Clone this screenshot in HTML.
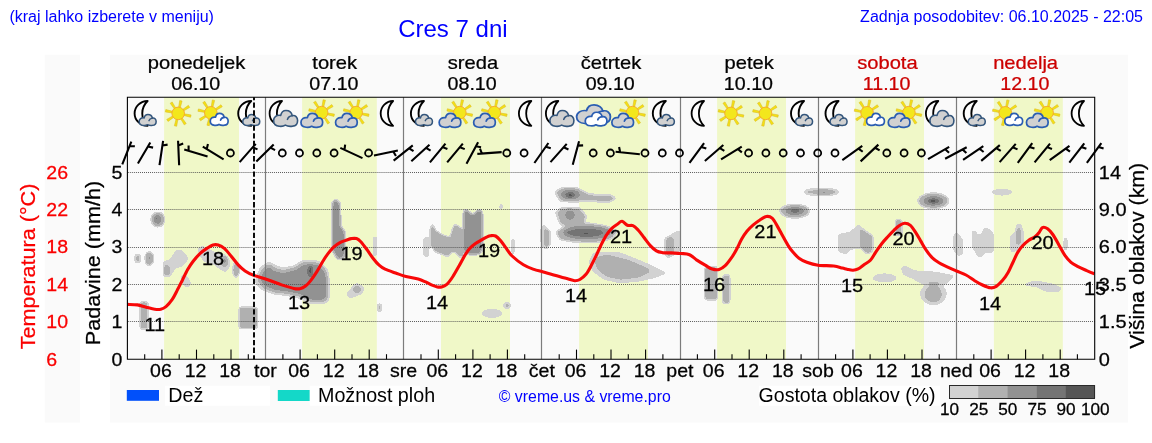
<!DOCTYPE html>
<html><head><meta charset="utf-8"><title>Cres 7 dni</title>
<style>html,body{margin:0;padding:0;background:#fff;}body{width:1152px;height:443px;overflow:hidden;font-family:"Liberation Sans", sans-serif;}svg{display:block;will-change:transform;opacity:0.9999;}text{font-family:"Liberation Sans", sans-serif;}</style>
</head><body>
<svg width="1152" height="443" viewBox="0 0 1152 443">
<defs>
<filter id="q" filterUnits="userSpaceOnUse" x="127" y="172" width="968" height="187" color-interpolation-filters="sRGB"><feGaussianBlur stdDeviation="1.7"/><feColorMatrix type="matrix" values="0 0 0 1 0  0 0 0 1 0  0 0 0 1 0  0 0 0 1 0"/><feComponentTransfer><feFuncR type="discrete" tableValues="1.000 1.000 0.824 0.824 0.824 0.694 0.694 0.694 0.694 0.694 0.573 0.573 0.573 0.573 0.573 0.455 0.455 0.455 0.337 0.337"/><feFuncG type="discrete" tableValues="1.000 1.000 0.824 0.824 0.824 0.694 0.694 0.694 0.694 0.694 0.573 0.573 0.573 0.573 0.573 0.455 0.455 0.455 0.337 0.337"/><feFuncB type="discrete" tableValues="1.000 1.000 0.824 0.824 0.824 0.694 0.694 0.694 0.694 0.694 0.573 0.573 0.573 0.573 0.573 0.455 0.455 0.455 0.337 0.337"/><feFuncA type="discrete" tableValues="0 0 1 1 1 1 1 1 1 1 1 1 1 1 1 1 1 1 1 1"/></feComponentTransfer><feGaussianBlur stdDeviation="0.35"/></filter><g id="barb"><path d="M0,12.2 L0,-12.2 M0,-7.6 L5.0,-9.2" fill="none" stroke="#000" stroke-width="2.1" stroke-linecap="butt" stroke-linejoin="miter"/></g><g id="ic-moon"><path transform="translate(0.1,0.0) scale(1.000,1)" d="M6.5,-12.4 A12.4,12.4 0 0 0 6.5,12.4 A17.6,17.6 0 0 1 6.5,-12.4 Z" fill="#fdfdfd" stroke="#000" stroke-width="1.8" stroke-linejoin="round"/></g><g id="ic-moon1"><path transform="translate(-3.9,0.0) scale(1.050,1)" d="M6.5,-12.4 A12.4,12.4 0 0 0 6.5,12.4 A17.6,17.6 0 0 1 6.5,-12.4 Z" fill="#fdfdfd" stroke="#000" stroke-width="1.8" stroke-linejoin="round"/><g transform="translate(-5.90,0.80) scale(0.885,0.872)"><path d="M6.1,4.3 C6.6,1.6 8.4,0.4 10.3,0.4 C12.9,0.4 14.9,2.2 15.3,4.5 C17.8,3.9 19.6,5.8 19.6,8.3 C19.6,10.8 18.2,12.6 15.6,12.8 C13.4,13.2 11.4,12.9 9.8,12.0 C8.6,12.8 6.6,13.1 5.0,12.9 C2.2,12.7 0.4,10.9 0.4,8.4 C0.4,5.8 2.8,3.6 6.1,4.3 Z" fill="#d1d1d1" stroke="#34567c" stroke-width="1.71" stroke-linejoin="round"/><path d="M11.5,7.4 C12,5.6 13.6,4.7 15.3,4.5" fill="none" stroke="#34567c" stroke-width="1.71" stroke-linecap="round"/></g></g><g id="ic-moon2"><path transform="translate(-7.4,0.0) scale(1.000,1)" d="M6.5,-12.4 A12.4,12.4 0 0 0 6.5,12.4 A17.6,17.6 0 0 1 6.5,-12.4 Z" fill="#fdfdfd" stroke="#000" stroke-width="1.8" stroke-linejoin="round"/><g transform="translate(-9.80,-3.40) scale(1.250,1.263)"><path d="M6.1,4.3 C6.6,1.6 8.4,0.4 10.3,0.4 C12.9,0.4 14.9,2.2 15.3,4.5 C17.8,3.9 19.6,5.8 19.6,8.3 C19.6,10.8 18.2,12.6 15.6,12.8 C13.4,13.2 11.4,12.9 9.8,12.0 C8.6,12.8 6.6,13.1 5.0,12.9 C2.2,12.7 0.4,10.9 0.4,8.4 C0.4,5.8 2.8,3.6 6.1,4.3 Z" fill="#d1d1d1" stroke="#34567c" stroke-width="1.27" stroke-linejoin="round"/><path d="M11.5,7.4 C12,5.6 13.6,4.7 15.3,4.5" fill="none" stroke="#34567c" stroke-width="1.27" stroke-linecap="round"/></g></g><g id="ic-sun"><g transform="translate(-1.0,0.0)"><path transform="rotate(12)" d="M-0.85,-6.0 L-1.2,-12.9 L1.2,-12.9 L0.85,-6.0 Z" fill="#f3e214" stroke="#dcb722" stroke-width="0.5" stroke-linejoin="round"/><path transform="rotate(57)" d="M-0.85,-6.0 L-1.2,-12.9 L1.2,-12.9 L0.85,-6.0 Z" fill="#f3e214" stroke="#dcb722" stroke-width="0.5" stroke-linejoin="round"/><path transform="rotate(102)" d="M-0.85,-6.0 L-1.2,-12.9 L1.2,-12.9 L0.85,-6.0 Z" fill="#f3e214" stroke="#dcb722" stroke-width="0.5" stroke-linejoin="round"/><path transform="rotate(147)" d="M-0.85,-6.0 L-1.2,-12.9 L1.2,-12.9 L0.85,-6.0 Z" fill="#f3e214" stroke="#dcb722" stroke-width="0.5" stroke-linejoin="round"/><path transform="rotate(192)" d="M-0.85,-6.0 L-1.2,-12.9 L1.2,-12.9 L0.85,-6.0 Z" fill="#f3e214" stroke="#dcb722" stroke-width="0.5" stroke-linejoin="round"/><path transform="rotate(237)" d="M-0.85,-6.0 L-1.2,-12.9 L1.2,-12.9 L0.85,-6.0 Z" fill="#f3e214" stroke="#dcb722" stroke-width="0.5" stroke-linejoin="round"/><path transform="rotate(282)" d="M-0.85,-6.0 L-1.2,-12.9 L1.2,-12.9 L0.85,-6.0 Z" fill="#f3e214" stroke="#dcb722" stroke-width="0.5" stroke-linejoin="round"/><path transform="rotate(327)" d="M-0.85,-6.0 L-1.2,-12.9 L1.2,-12.9 L0.85,-6.0 Z" fill="#f3e214" stroke="#dcb722" stroke-width="0.5" stroke-linejoin="round"/><circle r="6.3" fill="#f3e71c" stroke="#f6a52c" stroke-width="0.9"/></g></g><g id="ic-sun1"><g transform="translate(-3.0,-0.6)"><path transform="rotate(12)" d="M-0.85,-6.0 L-1.2,-12.9 L1.2,-12.9 L0.85,-6.0 Z" fill="#f3e214" stroke="#dcb722" stroke-width="0.5" stroke-linejoin="round"/><path transform="rotate(57)" d="M-0.85,-6.0 L-1.2,-12.9 L1.2,-12.9 L0.85,-6.0 Z" fill="#f3e214" stroke="#dcb722" stroke-width="0.5" stroke-linejoin="round"/><path transform="rotate(102)" d="M-0.85,-6.0 L-1.2,-12.9 L1.2,-12.9 L0.85,-6.0 Z" fill="#f3e214" stroke="#dcb722" stroke-width="0.5" stroke-linejoin="round"/><path transform="rotate(147)" d="M-0.85,-6.0 L-1.2,-12.9 L1.2,-12.9 L0.85,-6.0 Z" fill="#f3e214" stroke="#dcb722" stroke-width="0.5" stroke-linejoin="round"/><path transform="rotate(192)" d="M-0.85,-6.0 L-1.2,-12.9 L1.2,-12.9 L0.85,-6.0 Z" fill="#f3e214" stroke="#dcb722" stroke-width="0.5" stroke-linejoin="round"/><path transform="rotate(237)" d="M-0.85,-6.0 L-1.2,-12.9 L1.2,-12.9 L0.85,-6.0 Z" fill="#f3e214" stroke="#dcb722" stroke-width="0.5" stroke-linejoin="round"/><path transform="rotate(282)" d="M-0.85,-6.0 L-1.2,-12.9 L1.2,-12.9 L0.85,-6.0 Z" fill="#f3e214" stroke="#dcb722" stroke-width="0.5" stroke-linejoin="round"/><path transform="rotate(327)" d="M-0.85,-6.0 L-1.2,-12.9 L1.2,-12.9 L0.85,-6.0 Z" fill="#f3e214" stroke="#dcb722" stroke-width="0.5" stroke-linejoin="round"/><circle r="6.3" fill="#f3e71c" stroke="#f6a52c" stroke-width="0.9"/></g><g transform="translate(-3.90,-0.30) scale(0.930,0.947)"><path d="M6.1,4.3 C6.6,1.6 8.4,0.4 10.3,0.4 C12.9,0.4 14.9,2.2 15.3,4.5 C17.8,3.9 19.6,5.8 19.6,8.3 C19.6,10.8 18.2,12.6 15.6,12.8 C13.4,13.2 11.4,12.9 9.8,12.0 C8.6,12.8 6.6,13.1 5.0,12.9 C2.2,12.7 0.4,10.9 0.4,8.4 C0.4,5.8 2.8,3.6 6.1,4.3 Z" fill="#ffffff" stroke="#2a5db2" stroke-width="1.81" stroke-linejoin="round"/><path d="M11.5,7.4 C12,5.6 13.6,4.7 15.3,4.5" fill="none" stroke="#2a5db2" stroke-width="1.81" stroke-linecap="round"/></g></g><g id="ic-sun2"><g transform="translate(4.2,-0.8)"><path transform="rotate(12)" d="M-0.85,-6.0 L-1.2,-12.9 L1.2,-12.9 L0.85,-6.0 Z" fill="#f3e214" stroke="#dcb722" stroke-width="0.5" stroke-linejoin="round"/><path transform="rotate(57)" d="M-0.85,-6.0 L-1.2,-12.9 L1.2,-12.9 L0.85,-6.0 Z" fill="#f3e214" stroke="#dcb722" stroke-width="0.5" stroke-linejoin="round"/><path transform="rotate(102)" d="M-0.85,-6.0 L-1.2,-12.9 L1.2,-12.9 L0.85,-6.0 Z" fill="#f3e214" stroke="#dcb722" stroke-width="0.5" stroke-linejoin="round"/><path transform="rotate(147)" d="M-0.85,-6.0 L-1.2,-12.9 L1.2,-12.9 L0.85,-6.0 Z" fill="#f3e214" stroke="#dcb722" stroke-width="0.5" stroke-linejoin="round"/><path transform="rotate(192)" d="M-0.85,-6.0 L-1.2,-12.9 L1.2,-12.9 L0.85,-6.0 Z" fill="#f3e214" stroke="#dcb722" stroke-width="0.5" stroke-linejoin="round"/><path transform="rotate(237)" d="M-0.85,-6.0 L-1.2,-12.9 L1.2,-12.9 L0.85,-6.0 Z" fill="#f3e214" stroke="#dcb722" stroke-width="0.5" stroke-linejoin="round"/><path transform="rotate(282)" d="M-0.85,-6.0 L-1.2,-12.9 L1.2,-12.9 L0.85,-6.0 Z" fill="#f3e214" stroke="#dcb722" stroke-width="0.5" stroke-linejoin="round"/><path transform="rotate(327)" d="M-0.85,-6.0 L-1.2,-12.9 L1.2,-12.9 L0.85,-6.0 Z" fill="#f3e214" stroke="#dcb722" stroke-width="0.5" stroke-linejoin="round"/><circle r="6.3" fill="#f3e71c" stroke="#f6a52c" stroke-width="0.9"/></g><g transform="translate(-16.90,-0.50) scale(1.130,1.113)"><path d="M6.1,4.3 C6.6,1.6 8.4,0.4 10.3,0.4 C12.9,0.4 14.9,2.2 15.3,4.5 C17.8,3.9 19.6,5.8 19.6,8.3 C19.6,10.8 18.2,12.6 15.6,12.8 C13.4,13.2 11.4,12.9 9.8,12.0 C8.6,12.8 6.6,13.1 5.0,12.9 C2.2,12.7 0.4,10.9 0.4,8.4 C0.4,5.8 2.8,3.6 6.1,4.3 Z" fill="#d1d1d1" stroke="#2a5db2" stroke-width="1.52" stroke-linejoin="round"/><path d="M11.5,7.4 C12,5.6 13.6,4.7 15.3,4.5" fill="none" stroke="#2a5db2" stroke-width="1.52" stroke-linecap="round"/></g></g><g id="ic-cloudy"><g transform="translate(-17.90,-9.10) scale(1.760,1.489)"><path d="M6.1,4.3 C6.6,1.6 8.4,0.4 10.3,0.4 C12.9,0.4 14.9,2.2 15.3,4.5 C17.8,3.9 19.6,5.8 19.6,8.3 C19.6,10.8 18.2,12.6 15.6,12.8 C13.4,13.2 11.4,12.9 9.8,12.0 C8.6,12.8 6.6,13.1 5.0,12.9 C2.2,12.7 0.4,10.9 0.4,8.4 C0.4,5.8 2.8,3.6 6.1,4.3 Z" fill="#d1d1d1" stroke="#2a5db2" stroke-width="1.05" stroke-linejoin="round"/><path d="M11.5,7.4 C12,5.6 13.6,4.7 15.3,4.5" fill="none" stroke="#2a5db2" stroke-width="1.05" stroke-linecap="round"/></g><g transform="translate(-9.00,-1.60) scale(1.130,1.083)"><path d="M6.1,4.3 C6.6,1.6 8.4,0.4 10.3,0.4 C12.9,0.4 14.9,2.2 15.3,4.5 C17.8,3.9 19.6,5.8 19.6,8.3 C19.6,10.8 18.2,12.6 15.6,12.8 C13.4,13.2 11.4,12.9 9.8,12.0 C8.6,12.8 6.6,13.1 5.0,12.9 C2.2,12.7 0.4,10.9 0.4,8.4 C0.4,5.8 2.8,3.6 6.1,4.3 Z" fill="#ffffff" stroke="#2a5db2" stroke-width="1.54" stroke-linejoin="round"/><path d="M11.5,7.4 C12,5.6 13.6,4.7 15.3,4.5" fill="none" stroke="#2a5db2" stroke-width="1.54" stroke-linecap="round"/></g></g>
</defs>
<rect x="0" y="0" width="1152" height="443" fill="#ffffff"/>
<rect x="44.8" y="54.8" width="35.1" height="367.8" fill="#fafafa"/>
<rect x="110" y="54.8" width="1018" height="367.8" fill="#fafafa"/>
<text x="9.4" y="21.6" font-size="16" fill="#0000ff">(kraj lahko izberete v meniju)</text>
<text x="398.2" y="36.6" font-size="24" fill="#0000ff">Cres 7 dni</text>
<text x="1143" y="21.8" font-size="16" fill="#0000ff" text-anchor="end">Zadnja posodobitev: 06.10.2025 - 22:05</text>
<rect x="164.1" y="97.3" width="74.9" height="261.9" fill="#f0f8c8"/>
<rect x="302.1" y="97.3" width="74.7" height="261.9" fill="#f0f8c8"/>
<rect x="441.0" y="97.3" width="69.0" height="261.9" fill="#f0f8c8"/>
<rect x="579.1" y="97.3" width="68.9" height="261.9" fill="#f0f8c8"/>
<rect x="717.1" y="97.3" width="68.9" height="261.9" fill="#f0f8c8"/>
<rect x="855.1" y="97.3" width="68.9" height="261.9" fill="#f0f8c8"/>
<rect x="993.9" y="97.3" width="68.9" height="261.9" fill="#f0f8c8"/>
<g filter="url(#q)" fill="#000"><ellipse cx="157.9" cy="219.5" rx="7.0" ry="7.6" fill-opacity="0.30"/><ellipse cx="157.8" cy="219.5" rx="4.6" ry="5.2" fill-opacity="0.42"/><ellipse cx="156.6" cy="218.4" rx="1.5" ry="1.7" fill-opacity="1.00"/><ellipse cx="137.6" cy="258.5" rx="3.2" ry="4.5" fill-opacity="0.30"/><ellipse cx="149.3" cy="258.5" rx="3.8" ry="6.6" fill-opacity="0.50"/><polygon points="163.0,261.5 170.0,259.5 175.5,250.5 181.5,249.5 188.0,257.0 187.6,261.0 182.0,266.5 175.0,268.5 170.5,277.0 163.0,277.0" fill-opacity="0.21"/><ellipse cx="166.6" cy="270.5" rx="1.8" ry="4.2" fill-opacity="0.45"/><polygon points="180.8,276.5 184.0,273.5 188.0,277.0 191.2,283.0 188.5,287.6 184.5,286.4 182.0,281.5" fill-opacity="0.21"/><polygon points="197.5,248.5 202.5,245.5 208.0,249.0 215.0,252.0 224.0,254.0 230.2,261.0 229.4,268.0 225.0,272.4 219.0,268.4 212.0,263.4 205.0,262.4 200.0,256.4" fill-opacity="0.21"/><ellipse cx="224.6" cy="260.8" rx="2.8" ry="4.4" fill-opacity="0.45"/><ellipse cx="236.0" cy="269.7" rx="3.2" ry="8.2" fill-opacity="0.30"/><ellipse cx="236.2" cy="270.2" rx="1.5" ry="4.8" fill-opacity="0.40"/><rect x="140.3" y="302.0" width="7.5" height="26.8" fill-opacity="0.40"/><rect x="239.5" y="307.6" width="17.3" height="20.6" fill-opacity="0.49"/><polygon points="254.5,281.0 260.0,266.5 268.8,261.0 277.0,265.5 283.0,267.3 294.5,265.0 301.0,260.2 310.0,259.4 319.5,260.8 327.6,268.5 329.6,276.0 329.6,300.5 324.0,304.4 311.0,304.4 298.0,298.4 286.0,296.0 274.0,294.8 263.0,291.0 255.5,285.0" fill-opacity="0.17"/><polygon points="257.0,280.0 262.0,268.5 268.8,263.8 275.5,268.0 283.0,270.0 295.0,267.5 302.0,262.5 310.0,261.8 318.5,263.0 326.0,270.0 327.6,277.0 327.6,299.5 323.0,302.2 311.5,302.2 299.0,296.2 286.5,293.8 274.5,292.4 264.0,288.6" fill-opacity="0.19"/><polygon points="259.5,279.0 264.0,271.0 268.8,266.7 274.0,271.0 283.0,273.0 296.0,270.0 303.0,265.0 310.0,264.0 318.0,265.0 324.0,271.0 326.0,278.0 326.0,298.0 322.0,300.0 312.0,300.0 300.0,294.0 287.0,291.5 275.0,290.0 265.0,286.0" fill-opacity="0.51"/><ellipse cx="310.3" cy="271.0" rx="2.2" ry="6.0" fill-opacity="0.90"/><polygon points="332.4,203.0 335.5,199.5 339.6,203.0 340.4,226.0 344.6,232.0 344.6,257.0 338.0,259.5 332.4,250.0" fill-opacity="0.66"/><rect x="373.2" y="236.6" width="3.2" height="19.4" fill-opacity="0.30"/><polygon points="345.5,294.0 356.5,282.2 365.2,288.0 362.0,294.0 350.0,298.5" fill-opacity="0.21"/><ellipse cx="357.0" cy="289.3" rx="2.8" ry="2.4" fill-opacity="0.35"/><ellipse cx="379.5" cy="307.7" rx="2.4" ry="4.2" fill-opacity="0.30"/><rect x="423.4" y="237.5" width="5.8" height="19.3" fill-opacity="0.22"/><polygon points="430.0,232.0 432.0,223.0 435.0,230.0 439.4,233.5 450.0,238.0 453.0,228.0 455.0,224.0 460.5,228.0 463.5,230.0 463.5,257.0 460.5,257.5 456.0,253.0 453.0,251.0 447.5,256.5 442.0,254.0 436.0,252.0 431.0,246.0" fill-opacity="0.42"/><polygon points="463.9,212.0 466.0,209.6 472.7,215.6 479.0,209.6 482.0,212.0 482.0,250.0 479.0,254.0 467.0,254.0 463.9,250.0" fill-opacity="0.70"/><rect x="500.4" y="204.0" width="1.4" height="5.5" fill-opacity="0.50"/><rect x="512.2" y="238.0" width="1.6" height="16.6" fill-opacity="0.40"/><ellipse cx="491.9" cy="313.4" rx="10.4" ry="4.3" fill-opacity="0.22"/><ellipse cx="507.2" cy="305.5" rx="3.6" ry="3.1" fill-opacity="0.30"/><polygon points="540.6,226.0 545.0,225.0 550.8,232.0 550.8,244.0 546.0,250.5 540.6,244.0" fill-opacity="0.22"/><rect x="545.4" y="230.0" width="2.8" height="16.0" fill-opacity="0.30"/><polygon points="554.6,192.0 562.0,187.2 578.0,188.0 590.0,194.0 612.0,195.0 616.4,199.0 608.0,202.8 590.0,201.2 575.0,202.0 560.0,201.5" fill-opacity="0.30"/><ellipse cx="570.4" cy="194.6" rx="9.8" ry="4.8" fill-opacity="0.60"/><ellipse cx="570.2" cy="195.2" rx="3.6" ry="2.2" fill-opacity="0.90"/><polygon points="555.4,212.0 562.0,207.2 580.0,207.8 586.6,216.0 584.0,224.4 570.0,226.4 560.0,224.4" fill-opacity="0.30"/><ellipse cx="570.0" cy="215.0" rx="5.4" ry="5.2" fill-opacity="0.45"/><polygon points="556.0,232.0 566.0,225.6 590.0,223.2 606.0,226.0 618.0,231.0 612.0,238.4 596.0,242.4 574.0,242.0 560.0,239.4" fill-opacity="0.36"/><ellipse cx="587.0" cy="232.6" rx="24.0" ry="6.4" fill-opacity="0.50"/><ellipse cx="585.0" cy="232.6" rx="19.0" ry="4.4" fill-opacity="0.40"/><ellipse cx="586.5" cy="233.4" rx="13.0" ry="2.4" fill-opacity="0.55"/><polygon points="589.0,262.0 593.0,252.8 606.0,251.8 620.0,252.6 646.0,263.0 667.0,273.0 654.0,278.0 638.0,281.6 620.0,283.0 604.0,279.4 593.0,271.5" fill-opacity="0.23"/><polygon points="596.5,262.0 599.5,257.5 610.0,257.0 628.0,261.6 649.0,270.8 638.0,275.8 620.0,278.0 607.0,275.0 599.5,269.0" fill-opacity="0.21"/><polygon points="664.3,238.0 680.3,229.2 680.8,250.0 672.5,256.0 667.0,258.6 664.3,254.0" fill-opacity="0.21"/><rect x="667.2" y="238.5" width="5.2" height="16.5" fill-opacity="0.30"/><rect x="705.3" y="267.0" width="11.5" height="32.5" fill-opacity="0.48"/><rect x="722.9" y="275.0" width="6.6" height="28.3" fill-opacity="0.40"/><ellipse cx="794.8" cy="211.1" rx="15.4" ry="7.2" fill-opacity="0.25"/><ellipse cx="794.8" cy="211.1" rx="12.4" ry="5.4" fill-opacity="0.25"/><ellipse cx="794.8" cy="211.0" rx="9.4" ry="3.8" fill-opacity="0.30"/><ellipse cx="794.8" cy="210.8" rx="6.4" ry="2.4" fill-opacity="0.50"/><ellipse cx="794.6" cy="210.4" rx="3.0" ry="1.3" fill-opacity="0.90"/><ellipse cx="821.5" cy="192.0" rx="18.0" ry="3.8" fill-opacity="0.28"/><ellipse cx="824.0" cy="192.3" rx="8.0" ry="1.6" fill-opacity="0.45"/><polygon points="838.2,234.0 850.0,232.0 858.0,224.2 872.8,236.0 872.8,250.0 868.0,254.8 860.0,248.0 850.0,250.0 846.0,254.6 838.2,252.0" fill-opacity="0.21"/><polygon points="860.8,229.6 872.6,236.6 872.6,250.4 868.0,254.0 860.8,247.2" fill-opacity="0.24"/><rect x="896.0" y="220.0" width="5.4" height="15.0" fill-opacity="0.50"/><ellipse cx="933.4" cy="200.8" rx="16.0" ry="8.0" fill-opacity="0.25"/><ellipse cx="933.4" cy="200.8" rx="13.0" ry="6.2" fill-opacity="0.25"/><ellipse cx="933.4" cy="200.9" rx="10.0" ry="4.6" fill-opacity="0.30"/><ellipse cx="933.4" cy="201.0" rx="7.2" ry="3.0" fill-opacity="0.45"/><ellipse cx="933.2" cy="201.0" rx="4.4" ry="1.8" fill-opacity="1.00"/><ellipse cx="884.6" cy="278.0" rx="12.2" ry="4.4" fill-opacity="0.21"/><polygon points="900.8,267.6 905.0,265.8 915.0,270.6 935.0,271.8 955.0,275.6 946.0,284.4 922.0,284.0 912.0,278.5 903.0,274.8" fill-opacity="0.21"/><ellipse cx="933.4" cy="293.8" rx="13.2" ry="11.2" fill-opacity="0.22"/><ellipse cx="933.2" cy="294.0" rx="7.0" ry="7.0" fill-opacity="0.30"/><polygon points="953.3,236.0 957.0,231.6 963.2,240.0 963.2,254.0 958.0,256.2 953.3,250.0" fill-opacity="0.21"/><polygon points="971.8,232.0 973.8,229.4 976.0,231.0 978.1,235.4 981.0,234.0 984.2,227.8 987.7,227.8 994.0,234.1 994.0,250.0 991.2,253.8 985.1,252.6 981.6,257.8 977.3,257.0 974.5,251.0 971.8,247.1" fill-opacity="0.21"/><ellipse cx="1002.0" cy="192.2" rx="10.8" ry="3.2" fill-opacity="0.21"/><polygon points="1010.2,236.0 1015.0,232.0 1017.0,223.2 1021.0,223.8 1023.7,232.0 1023.7,248.0 1018.0,250.0 1012.0,253.2 1010.2,250.0" fill-opacity="0.21"/><rect x="1017.3" y="229.0" width="2.2" height="14.5" fill-opacity="0.36"/><rect x="1064.3" y="237.8" width="2.5" height="12.6" fill-opacity="0.35"/><polygon points="1023.3,284.2 1032.0,281.3 1042.0,281.6 1054.0,284.0 1063.2,288.5 1058.0,292.2 1046.0,291.7 1036.0,287.0 1026.0,285.8" fill-opacity="0.21"/></g>
<line x1="127.8" x2="1094.7" y1="321.5" y2="321.5" stroke="#4c4c4c" stroke-width="1" stroke-dasharray="0.9 1.13"/>
<line x1="127.8" x2="1094.7" y1="284.5" y2="284.5" stroke="#4c4c4c" stroke-width="1" stroke-dasharray="0.9 1.13"/>
<line x1="127.8" x2="1094.7" y1="247.5" y2="247.5" stroke="#4c4c4c" stroke-width="1" stroke-dasharray="0.9 1.13"/>
<line x1="127.8" x2="1094.7" y1="209.5" y2="209.5" stroke="#4c4c4c" stroke-width="1" stroke-dasharray="0.9 1.13"/>
<line x1="127.8" x2="1094.7" y1="172.5" y2="172.5" stroke="#4c4c4c" stroke-width="1" stroke-dasharray="0.9 1.13"/>
<line x1="265.5" x2="265.5" y1="97.3" y2="359.2" stroke="#7c7c7c" stroke-width="1.2"/>
<line x1="403.5" x2="403.5" y1="97.3" y2="359.2" stroke="#7c7c7c" stroke-width="1.2"/>
<line x1="541.5" x2="541.5" y1="97.3" y2="359.2" stroke="#7c7c7c" stroke-width="1.2"/>
<line x1="680.5" x2="680.5" y1="97.3" y2="359.2" stroke="#7c7c7c" stroke-width="1.2"/>
<line x1="818.5" x2="818.5" y1="97.3" y2="359.2" stroke="#7c7c7c" stroke-width="1.2"/>
<line x1="956.5" x2="956.5" y1="97.3" y2="359.2" stroke="#7c7c7c" stroke-width="1.2"/>
<line x1="144.7" x2="144.7" y1="359.2" y2="354.2" stroke="#000" stroke-width="1.1"/>
<line x1="161.9" x2="161.9" y1="359.2" y2="349.6" stroke="#000" stroke-width="1.1"/>
<line x1="179.2" x2="179.2" y1="359.2" y2="354.2" stroke="#000" stroke-width="1.1"/>
<line x1="196.5" x2="196.5" y1="359.2" y2="349.6" stroke="#000" stroke-width="1.1"/>
<line x1="213.8" x2="213.8" y1="359.2" y2="354.2" stroke="#000" stroke-width="1.1"/>
<line x1="231.0" x2="231.0" y1="359.2" y2="349.6" stroke="#000" stroke-width="1.1"/>
<line x1="248.3" x2="248.3" y1="359.2" y2="354.2" stroke="#000" stroke-width="1.1"/>
<line x1="282.9" x2="282.9" y1="359.2" y2="354.2" stroke="#000" stroke-width="1.1"/>
<line x1="300.1" x2="300.1" y1="359.2" y2="349.6" stroke="#000" stroke-width="1.1"/>
<line x1="317.4" x2="317.4" y1="359.2" y2="354.2" stroke="#000" stroke-width="1.1"/>
<line x1="334.7" x2="334.7" y1="359.2" y2="349.6" stroke="#000" stroke-width="1.1"/>
<line x1="352.0" x2="352.0" y1="359.2" y2="354.2" stroke="#000" stroke-width="1.1"/>
<line x1="369.2" x2="369.2" y1="359.2" y2="349.6" stroke="#000" stroke-width="1.1"/>
<line x1="386.5" x2="386.5" y1="359.2" y2="354.2" stroke="#000" stroke-width="1.1"/>
<line x1="421.0" x2="421.0" y1="359.2" y2="354.2" stroke="#000" stroke-width="1.1"/>
<line x1="438.3" x2="438.3" y1="359.2" y2="349.6" stroke="#000" stroke-width="1.1"/>
<line x1="455.6" x2="455.6" y1="359.2" y2="354.2" stroke="#000" stroke-width="1.1"/>
<line x1="472.9" x2="472.9" y1="359.2" y2="349.6" stroke="#000" stroke-width="1.1"/>
<line x1="490.1" x2="490.1" y1="359.2" y2="354.2" stroke="#000" stroke-width="1.1"/>
<line x1="507.4" x2="507.4" y1="359.2" y2="349.6" stroke="#000" stroke-width="1.1"/>
<line x1="524.7" x2="524.7" y1="359.2" y2="354.2" stroke="#000" stroke-width="1.1"/>
<line x1="559.2" x2="559.2" y1="359.2" y2="354.2" stroke="#000" stroke-width="1.1"/>
<line x1="576.5" x2="576.5" y1="359.2" y2="349.6" stroke="#000" stroke-width="1.1"/>
<line x1="593.8" x2="593.8" y1="359.2" y2="354.2" stroke="#000" stroke-width="1.1"/>
<line x1="611.0" x2="611.0" y1="359.2" y2="349.6" stroke="#000" stroke-width="1.1"/>
<line x1="628.3" x2="628.3" y1="359.2" y2="354.2" stroke="#000" stroke-width="1.1"/>
<line x1="645.6" x2="645.6" y1="359.2" y2="349.6" stroke="#000" stroke-width="1.1"/>
<line x1="662.9" x2="662.9" y1="359.2" y2="354.2" stroke="#000" stroke-width="1.1"/>
<line x1="697.4" x2="697.4" y1="359.2" y2="354.2" stroke="#000" stroke-width="1.1"/>
<line x1="714.7" x2="714.7" y1="359.2" y2="349.6" stroke="#000" stroke-width="1.1"/>
<line x1="732.0" x2="732.0" y1="359.2" y2="354.2" stroke="#000" stroke-width="1.1"/>
<line x1="749.2" x2="749.2" y1="359.2" y2="349.6" stroke="#000" stroke-width="1.1"/>
<line x1="766.5" x2="766.5" y1="359.2" y2="354.2" stroke="#000" stroke-width="1.1"/>
<line x1="783.8" x2="783.8" y1="359.2" y2="349.6" stroke="#000" stroke-width="1.1"/>
<line x1="801.1" x2="801.1" y1="359.2" y2="354.2" stroke="#000" stroke-width="1.1"/>
<line x1="835.6" x2="835.6" y1="359.2" y2="354.2" stroke="#000" stroke-width="1.1"/>
<line x1="852.9" x2="852.9" y1="359.2" y2="349.6" stroke="#000" stroke-width="1.1"/>
<line x1="870.1" x2="870.1" y1="359.2" y2="354.2" stroke="#000" stroke-width="1.1"/>
<line x1="887.4" x2="887.4" y1="359.2" y2="349.6" stroke="#000" stroke-width="1.1"/>
<line x1="904.7" x2="904.7" y1="359.2" y2="354.2" stroke="#000" stroke-width="1.1"/>
<line x1="922.0" x2="922.0" y1="359.2" y2="349.6" stroke="#000" stroke-width="1.1"/>
<line x1="939.2" x2="939.2" y1="359.2" y2="354.2" stroke="#000" stroke-width="1.1"/>
<line x1="973.8" x2="973.8" y1="359.2" y2="354.2" stroke="#000" stroke-width="1.1"/>
<line x1="991.1" x2="991.1" y1="359.2" y2="349.6" stroke="#000" stroke-width="1.1"/>
<line x1="1008.3" x2="1008.3" y1="359.2" y2="354.2" stroke="#000" stroke-width="1.1"/>
<line x1="1025.6" x2="1025.6" y1="359.2" y2="349.6" stroke="#000" stroke-width="1.1"/>
<line x1="1042.9" x2="1042.9" y1="359.2" y2="354.2" stroke="#000" stroke-width="1.1"/>
<line x1="1060.2" x2="1060.2" y1="359.2" y2="349.6" stroke="#000" stroke-width="1.1"/>
<line x1="1077.4" x2="1077.4" y1="359.2" y2="354.2" stroke="#000" stroke-width="1.1"/>
<path d="M127.4,304.4 C129.1,304.5 134.3,304.4 137.4,304.9 C140.5,305.4 143.2,306.5 146.1,307.2 C149.0,307.9 152.4,308.9 154.8,309.2 C157.2,309.5 158.9,309.6 160.8,309.2 C162.7,308.8 164.1,308.2 166.0,306.6 C167.9,305.0 170.2,302.4 172.1,299.7 C174.0,296.9 175.6,293.4 177.3,290.1 C179.1,286.8 180.8,283.2 182.6,279.7 C184.3,276.2 186.1,272.3 187.8,269.3 C189.5,266.3 191.0,264.1 193.0,261.5 C195.0,258.9 197.6,255.8 199.9,253.6 C202.2,251.4 204.7,249.8 206.9,248.4 C209.1,247.0 211.1,245.6 213.0,245.0 C214.9,244.4 216.3,244.4 218.2,245.0 C220.1,245.6 222.1,246.5 224.3,248.4 C226.5,250.3 228.9,253.4 231.2,256.2 C233.5,258.9 235.9,262.4 238.2,264.9 C240.5,267.4 242.5,269.2 245.1,271.0 C247.7,272.8 250.0,273.9 253.8,275.4 C257.6,276.8 263.1,278.1 267.7,279.7 C272.3,281.3 277.2,283.4 281.6,284.9 C286.0,286.3 290.8,287.8 293.8,288.4 C296.8,289.0 297.9,289.1 299.8,288.7 C301.8,288.3 303.7,287.4 305.5,286.0 C307.3,284.6 308.9,282.9 310.7,280.6 C312.5,278.3 314.4,275.5 316.4,272.4 C318.4,269.2 320.7,264.8 322.6,261.7 C324.5,258.6 325.9,256.4 327.8,253.9 C329.7,251.4 331.9,248.8 333.9,246.9 C335.9,245.0 337.8,243.8 340.0,242.6 C342.2,241.4 345.0,240.7 346.9,240.0 C348.8,239.3 349.7,238.8 351.3,238.6 C352.9,238.4 354.9,238.1 356.5,238.6 C358.1,239.1 359.1,239.9 360.8,241.7 C362.5,243.5 364.9,246.8 366.9,249.5 C368.9,252.2 371.0,255.6 373.0,258.2 C375.0,260.8 377.1,263.4 379.1,265.2 C381.1,267.0 382.4,267.9 385.1,269.2 C387.9,270.5 392.1,271.8 395.6,273.0 C399.1,274.2 402.2,275.5 406.0,276.5 C409.8,277.5 415.0,278.2 418.2,279.1 C421.4,280.0 422.8,280.7 425.1,281.7 C427.4,282.7 430.1,284.3 432.1,285.2 C434.1,286.1 435.7,286.6 437.3,286.9 C438.9,287.2 440.0,287.3 441.6,286.9 C443.2,286.5 444.9,286.0 446.8,284.3 C448.7,282.6 450.9,279.6 452.9,276.5 C454.9,273.4 457.1,269.3 459.0,266.0 C460.9,262.7 462.5,259.4 464.2,256.5 C465.9,253.6 467.5,250.9 469.4,248.7 C471.3,246.5 473.4,245.0 475.5,243.5 C477.6,242.0 480.0,240.8 482.0,239.6 C484.0,238.4 486.2,237.2 487.6,236.6 C489.0,235.9 489.3,235.8 490.6,235.7 C491.9,235.6 494.0,235.2 495.6,236.0 C497.2,236.8 498.8,238.6 500.5,240.6 C502.2,242.6 504.2,245.6 506.1,248.2 C508.0,250.8 509.2,253.2 512.1,256.0 C515.0,258.8 519.8,262.5 523.4,264.7 C527.0,266.9 530.7,268.2 533.9,269.4 C537.1,270.6 539.1,270.7 542.6,271.7 C546.1,272.7 550.7,274.0 554.7,275.2 C558.8,276.4 563.6,277.7 566.9,278.6 C570.2,279.5 572.5,280.6 574.7,280.7 C576.9,280.8 578.0,280.6 579.9,279.5 C581.8,278.4 584.1,276.6 586.0,274.3 C587.9,272.0 589.5,268.8 591.2,265.6 C592.9,262.4 594.7,258.8 596.4,255.2 C598.1,251.6 599.9,247.4 601.6,243.9 C603.4,240.4 605.1,236.9 606.9,234.3 C608.6,231.7 610.4,229.9 612.1,228.2 C613.8,226.5 615.6,225.3 617.3,224.2 C619.0,223.0 620.4,221.1 622.1,221.3 C623.8,221.5 625.6,224.6 627.4,225.3 C629.2,226.0 631.1,224.8 632.9,225.6 C634.7,226.4 636.2,228.0 638.1,230.0 C640.0,232.0 642.2,235.2 644.2,237.8 C646.2,240.4 648.3,243.4 650.3,245.6 C652.3,247.8 654.4,249.6 656.4,250.8 C658.4,252.0 660.0,252.2 662.5,252.6 C665.0,252.9 668.0,252.8 671.1,252.9 C674.2,253.1 677.8,253.2 680.9,253.5 C684.0,253.8 686.9,253.6 689.5,254.7 C692.1,255.8 693.9,258.1 696.5,259.9 C699.1,261.6 702.6,263.7 705.2,265.2 C707.8,266.7 709.8,268.3 712.1,269.0 C714.4,269.7 716.9,270.1 719.1,269.5 C721.3,268.9 723.2,267.6 725.2,265.7 C727.2,263.8 729.3,260.9 731.2,258.2 C733.1,255.5 734.8,252.7 736.5,249.5 C738.2,246.3 740.0,242.1 741.7,239.1 C743.4,236.1 745.0,233.6 746.9,231.3 C748.8,229.0 750.8,227.1 753.0,225.2 C755.2,223.3 757.7,221.4 759.9,220.0 C762.1,218.6 764.3,216.8 766.3,216.5 C768.3,216.2 770.3,216.6 772.1,218.2 C773.9,219.8 775.6,223.2 777.3,226.1 C779.0,229.0 780.8,232.5 782.5,235.6 C784.2,238.7 786.0,242.1 787.7,244.8 C789.4,247.6 791.0,249.9 792.9,252.1 C794.8,254.3 796.7,256.5 799.0,258.2 C801.3,259.9 803.6,261.0 806.8,262.2 C810.0,263.4 813.6,264.6 818.1,265.2 C822.6,265.8 829.8,265.5 833.8,266.0 C837.8,266.5 840.2,267.6 842.4,268.1 C844.6,268.6 845.2,268.8 847.0,269.2 C848.8,269.6 851.1,270.4 853.0,270.3 C854.9,270.2 856.3,269.9 858.2,268.9 C860.1,267.9 862.3,265.9 864.3,264.5 C866.3,263.1 868.5,262.2 870.4,260.2 C872.3,258.2 873.7,255.2 875.6,252.4 C877.5,249.7 879.7,246.3 881.7,243.7 C883.7,241.1 885.8,238.9 887.8,236.7 C889.8,234.5 892.0,232.1 893.9,230.3 C895.8,228.5 897.3,227.0 899.1,225.8 C900.9,224.6 902.7,223.4 904.6,223.3 C906.5,223.2 908.6,223.9 910.4,225.4 C912.2,226.9 913.9,229.8 915.6,232.4 C917.3,235.0 919.1,238.2 920.8,241.1 C922.5,244.0 924.1,247.1 926.0,249.8 C927.9,252.6 929.9,255.4 932.1,257.6 C934.3,259.8 936.4,261.2 939.0,262.8 C941.6,264.4 944.8,265.7 947.7,267.1 C950.6,268.5 953.4,269.7 956.4,271.0 C959.4,272.3 963.0,273.4 966.0,275.0 C969.0,276.6 972.0,279.0 974.7,280.7 C977.5,282.4 979.9,283.8 982.5,285.0 C985.1,286.2 988.3,287.6 990.6,287.8 C992.9,288.0 994.3,287.5 996.3,286.3 C998.3,285.1 1000.4,282.9 1002.4,280.6 C1004.4,278.3 1006.3,275.6 1008.1,272.5 C1009.9,269.4 1011.4,265.5 1013.0,262.2 C1014.6,258.9 1016.0,255.3 1017.6,252.6 C1019.2,249.9 1020.6,248.0 1022.4,246.0 C1024.2,244.0 1026.4,241.9 1028.5,240.4 C1030.6,238.9 1033.3,238.1 1035.0,236.8 C1036.7,235.5 1037.7,234.3 1038.9,232.8 C1040.1,231.3 1041.0,228.3 1042.4,227.6 C1043.9,226.9 1045.9,227.7 1047.6,228.8 C1049.3,230.0 1050.9,231.8 1052.8,234.5 C1054.7,237.2 1056.9,241.4 1058.9,244.9 C1060.9,248.4 1062.9,252.5 1064.9,255.4 C1066.9,258.3 1068.8,260.4 1071.0,262.3 C1073.2,264.2 1075.4,265.2 1078.0,266.6 C1080.6,268.0 1084.0,269.4 1086.7,270.6 C1089.4,271.8 1093.1,273.3 1094.4,273.8" fill="none" stroke="#f80808" stroke-width="3.1" stroke-linejoin="round" stroke-linecap="butt"/>
<path d="M127.4 97.3 V359.2 H1094.7 V97.3 Z" fill="none" stroke="#000" stroke-width="1.1"/>
<use href="#ic-moon1" x="144.7" y="113.4"/>
<use href="#ic-sun" x="179.2" y="113.4"/>
<use href="#ic-sun1" x="213.8" y="113.4"/>
<use href="#ic-moon1" x="248.3" y="113.4"/>
<use href="#ic-moon2" x="282.9" y="113.4"/>
<use href="#ic-sun2" x="317.4" y="113.4"/>
<use href="#ic-sun2" x="352.0" y="113.4"/>
<use href="#ic-moon" x="386.5" y="113.4"/>
<use href="#ic-moon1" x="421.0" y="113.4"/>
<use href="#ic-sun2" x="455.6" y="113.4"/>
<use href="#ic-sun2" x="490.1" y="113.4"/>
<use href="#ic-moon" x="524.7" y="113.4"/>
<use href="#ic-moon2" x="559.2" y="113.4"/>
<use href="#ic-cloudy" x="593.8" y="113.4"/>
<use href="#ic-sun2" x="628.3" y="113.4"/>
<use href="#ic-moon1" x="662.9" y="113.4"/>
<use href="#ic-moon" x="697.4" y="113.4"/>
<use href="#ic-sun" x="732.0" y="113.4"/>
<use href="#ic-sun" x="766.5" y="113.4"/>
<use href="#ic-moon1" x="801.1" y="113.4"/>
<use href="#ic-moon1" x="835.6" y="113.4"/>
<use href="#ic-sun1" x="870.1" y="113.4"/>
<use href="#ic-sun2" x="904.7" y="113.4"/>
<use href="#ic-moon2" x="939.2" y="113.4"/>
<use href="#ic-moon1" x="973.8" y="113.4"/>
<use href="#ic-sun1" x="1008.3" y="113.4"/>
<use href="#ic-sun2" x="1042.9" y="113.4"/>
<use href="#ic-moon" x="1077.4" y="113.4"/>
<line x1="254.0" x2="254.0" y1="97.3" y2="359.2" stroke="#000" stroke-width="1.9" stroke-dasharray="5.3 2.36" stroke-dashoffset="2.46"/>
<use href="#barb" transform="translate(126.8,153) rotate(21.8)"/>
<use href="#barb" transform="translate(144.1,153) rotate(30.5)"/>
<use href="#barb" transform="translate(161.3,153) rotate(8.5)"/>
<use href="#barb" transform="translate(178.6,153) rotate(-2.5)"/>
<use href="#barb" transform="translate(195.9,153) rotate(-72.9)"/>
<use href="#barb" transform="translate(213.2,153) rotate(-58.5)"/>
<circle cx="230.4" cy="153" r="3.5" fill="none" stroke="#000" stroke-width="1.8"/>
<use href="#barb" transform="translate(247.7,153) rotate(41.2)"/>
<use href="#barb" transform="translate(265.0,153) rotate(45.3)"/>
<circle cx="282.3" cy="153" r="3.5" fill="none" stroke="#000" stroke-width="1.8"/>
<circle cx="299.5" cy="153" r="3.5" fill="none" stroke="#000" stroke-width="1.8"/>
<circle cx="316.8" cy="153" r="3.5" fill="none" stroke="#000" stroke-width="1.8"/>
<circle cx="334.1" cy="153" r="3.5" fill="none" stroke="#000" stroke-width="1.8"/>
<use href="#barb" transform="translate(351.4,153) rotate(-65.3)"/>
<circle cx="368.6" cy="153" r="3.5" fill="none" stroke="#000" stroke-width="1.8"/>
<use href="#barb" transform="translate(385.9,153) rotate(78.3)"/>
<use href="#barb" transform="translate(403.2,153) rotate(51.6)"/>
<use href="#barb" transform="translate(420.4,153) rotate(48.0)"/>
<use href="#barb" transform="translate(437.7,153) rotate(39.5)"/>
<use href="#barb" transform="translate(455.0,153) rotate(39.9)"/>
<use href="#barb" transform="translate(472.3,153) rotate(28.4)"/>
<use href="#barb" transform="translate(489.5,153) rotate(-94.0)"/>
<circle cx="506.8" cy="153" r="3.5" fill="none" stroke="#000" stroke-width="1.8"/>
<circle cx="524.1" cy="153" r="3.5" fill="none" stroke="#000" stroke-width="1.8"/>
<use href="#barb" transform="translate(541.4,153) rotate(35.0)"/>
<use href="#barb" transform="translate(558.6,153) rotate(41.7)"/>
<use href="#barb" transform="translate(575.9,153) rotate(15.0)"/>
<circle cx="593.2" cy="153" r="3.5" fill="none" stroke="#000" stroke-width="1.8"/>
<circle cx="610.4" cy="153" r="3.5" fill="none" stroke="#000" stroke-width="1.8"/>
<use href="#barb" transform="translate(627.7,153) rotate(-83.8)"/>
<circle cx="645.0" cy="153" r="3.5" fill="none" stroke="#000" stroke-width="1.8"/>
<circle cx="662.3" cy="153" r="3.5" fill="none" stroke="#000" stroke-width="1.8"/>
<circle cx="679.5" cy="153" r="3.5" fill="none" stroke="#000" stroke-width="1.8"/>
<use href="#barb" transform="translate(696.8,153) rotate(36.7)"/>
<use href="#barb" transform="translate(714.1,153) rotate(49.2)"/>
<use href="#barb" transform="translate(731.4,153) rotate(58.0)"/>
<circle cx="748.6" cy="153" r="3.5" fill="none" stroke="#000" stroke-width="1.8"/>
<circle cx="765.9" cy="153" r="3.5" fill="none" stroke="#000" stroke-width="1.8"/>
<circle cx="783.2" cy="153" r="3.5" fill="none" stroke="#000" stroke-width="1.8"/>
<circle cx="800.5" cy="153" r="3.5" fill="none" stroke="#000" stroke-width="1.8"/>
<circle cx="817.7" cy="153" r="3.5" fill="none" stroke="#000" stroke-width="1.8"/>
<circle cx="835.0" cy="153" r="3.5" fill="none" stroke="#000" stroke-width="1.8"/>
<use href="#barb" transform="translate(852.3,153) rotate(54.8)"/>
<use href="#barb" transform="translate(869.5,153) rotate(46.7)"/>
<circle cx="886.8" cy="153" r="3.5" fill="none" stroke="#000" stroke-width="1.8"/>
<circle cx="904.1" cy="153" r="3.5" fill="none" stroke="#000" stroke-width="1.8"/>
<circle cx="921.4" cy="153" r="3.5" fill="none" stroke="#000" stroke-width="1.8"/>
<use href="#barb" transform="translate(938.6,153) rotate(60.0)"/>
<use href="#barb" transform="translate(955.9,153) rotate(62.0)"/>
<use href="#barb" transform="translate(973.2,153) rotate(56.0)"/>
<use href="#barb" transform="translate(990.5,153) rotate(49.5)"/>
<use href="#barb" transform="translate(1007.7,153) rotate(41.2)"/>
<use href="#barb" transform="translate(1025.0,153) rotate(36.4)"/>
<use href="#barb" transform="translate(1042.3,153) rotate(39.3)"/>
<use href="#barb" transform="translate(1059.6,153) rotate(54.0)"/>
<use href="#barb" transform="translate(1076.8,153) rotate(37.7)"/>
<use href="#barb" transform="translate(1094.1,153) rotate(36.4)"/>
<text transform="translate(196.5,68.9) scale(1.125,1)" font-size="17.9" text-anchor="middle" fill="#000" stroke="#000" stroke-width="0.25">ponedeljek</text>
<text transform="translate(195.7,89.7) scale(1.110,1)" font-size="17.7" text-anchor="middle" fill="#000" stroke="#000" stroke-width="0.25">06.10</text>
<text transform="translate(334.7,68.9) scale(1.125,1)" font-size="17.9" text-anchor="middle" fill="#000" stroke="#000" stroke-width="0.25">torek</text>
<text transform="translate(333.9,89.7) scale(1.110,1)" font-size="17.7" text-anchor="middle" fill="#000" stroke="#000" stroke-width="0.25">07.10</text>
<text transform="translate(472.9,68.9) scale(1.125,1)" font-size="17.9" text-anchor="middle" fill="#000" stroke="#000" stroke-width="0.25">sreda</text>
<text transform="translate(472.1,89.7) scale(1.110,1)" font-size="17.7" text-anchor="middle" fill="#000" stroke="#000" stroke-width="0.25">08.10</text>
<text transform="translate(611.0,68.9) scale(1.125,1)" font-size="17.9" text-anchor="middle" fill="#000" stroke="#000" stroke-width="0.25">četrtek</text>
<text transform="translate(610.2,89.7) scale(1.110,1)" font-size="17.7" text-anchor="middle" fill="#000" stroke="#000" stroke-width="0.25">09.10</text>
<text transform="translate(749.2,68.9) scale(1.125,1)" font-size="17.9" text-anchor="middle" fill="#000" stroke="#000" stroke-width="0.25">petek</text>
<text transform="translate(748.4,89.7) scale(1.110,1)" font-size="17.7" text-anchor="middle" fill="#000" stroke="#000" stroke-width="0.25">10.10</text>
<text transform="translate(887.4,68.9) scale(1.125,1)" font-size="17.9" text-anchor="middle" fill="#cc0000" stroke="#cc0000" stroke-width="0.25">sobota</text>
<text transform="translate(886.6,89.7) scale(1.110,1)" font-size="17.7" text-anchor="middle" fill="#cc0000" stroke="#cc0000" stroke-width="0.25">11.10</text>
<text transform="translate(1025.6,68.9) scale(1.125,1)" font-size="17.9" text-anchor="middle" fill="#cc0000" stroke="#cc0000" stroke-width="0.25">nedelja</text>
<text transform="translate(1024.8,89.7) scale(1.110,1)" font-size="17.7" text-anchor="middle" fill="#cc0000" stroke="#cc0000" stroke-width="0.25">12.10</text>
<text transform="translate(160.9,377.0) scale(1.105,1)" font-size="17.7" text-anchor="middle" fill="#000" stroke="#000" stroke-width="0.25">06</text>
<text transform="translate(195.5,377.0) scale(1.105,1)" font-size="17.7" text-anchor="middle" fill="#000" stroke="#000" stroke-width="0.25">12</text>
<text transform="translate(230.0,377.0) scale(1.105,1)" font-size="17.7" text-anchor="middle" fill="#000" stroke="#000" stroke-width="0.25">18</text>
<text transform="translate(265.4,377.0) scale(1.105,1)" font-size="17.7" text-anchor="middle" fill="#000" stroke="#000" stroke-width="0.25">tor</text>
<text transform="translate(299.1,377.0) scale(1.105,1)" font-size="17.7" text-anchor="middle" fill="#000" stroke="#000" stroke-width="0.25">06</text>
<text transform="translate(333.7,377.0) scale(1.105,1)" font-size="17.7" text-anchor="middle" fill="#000" stroke="#000" stroke-width="0.25">12</text>
<text transform="translate(368.2,377.0) scale(1.105,1)" font-size="17.7" text-anchor="middle" fill="#000" stroke="#000" stroke-width="0.25">18</text>
<text transform="translate(403.6,377.0) scale(1.105,1)" font-size="17.7" text-anchor="middle" fill="#000" stroke="#000" stroke-width="0.25">sre</text>
<text transform="translate(437.3,377.0) scale(1.105,1)" font-size="17.7" text-anchor="middle" fill="#000" stroke="#000" stroke-width="0.25">06</text>
<text transform="translate(471.9,377.0) scale(1.105,1)" font-size="17.7" text-anchor="middle" fill="#000" stroke="#000" stroke-width="0.25">12</text>
<text transform="translate(506.4,377.0) scale(1.105,1)" font-size="17.7" text-anchor="middle" fill="#000" stroke="#000" stroke-width="0.25">18</text>
<text transform="translate(541.8,377.0) scale(1.105,1)" font-size="17.7" text-anchor="middle" fill="#000" stroke="#000" stroke-width="0.25">čet</text>
<text transform="translate(575.5,377.0) scale(1.105,1)" font-size="17.7" text-anchor="middle" fill="#000" stroke="#000" stroke-width="0.25">06</text>
<text transform="translate(610.0,377.0) scale(1.105,1)" font-size="17.7" text-anchor="middle" fill="#000" stroke="#000" stroke-width="0.25">12</text>
<text transform="translate(644.6,377.0) scale(1.105,1)" font-size="17.7" text-anchor="middle" fill="#000" stroke="#000" stroke-width="0.25">18</text>
<text transform="translate(679.9,377.0) scale(1.105,1)" font-size="17.7" text-anchor="middle" fill="#000" stroke="#000" stroke-width="0.25">pet</text>
<text transform="translate(713.7,377.0) scale(1.105,1)" font-size="17.7" text-anchor="middle" fill="#000" stroke="#000" stroke-width="0.25">06</text>
<text transform="translate(748.2,377.0) scale(1.105,1)" font-size="17.7" text-anchor="middle" fill="#000" stroke="#000" stroke-width="0.25">12</text>
<text transform="translate(782.8,377.0) scale(1.105,1)" font-size="17.7" text-anchor="middle" fill="#000" stroke="#000" stroke-width="0.25">18</text>
<text transform="translate(818.1,377.0) scale(1.105,1)" font-size="17.7" text-anchor="middle" fill="#000" stroke="#000" stroke-width="0.25">sob</text>
<text transform="translate(851.9,377.0) scale(1.105,1)" font-size="17.7" text-anchor="middle" fill="#000" stroke="#000" stroke-width="0.25">06</text>
<text transform="translate(886.4,377.0) scale(1.105,1)" font-size="17.7" text-anchor="middle" fill="#000" stroke="#000" stroke-width="0.25">12</text>
<text transform="translate(921.0,377.0) scale(1.105,1)" font-size="17.7" text-anchor="middle" fill="#000" stroke="#000" stroke-width="0.25">18</text>
<text transform="translate(956.3,377.0) scale(1.105,1)" font-size="17.7" text-anchor="middle" fill="#000" stroke="#000" stroke-width="0.25">ned</text>
<text transform="translate(990.1,377.0) scale(1.105,1)" font-size="17.7" text-anchor="middle" fill="#000" stroke="#000" stroke-width="0.25">06</text>
<text transform="translate(1024.6,377.0) scale(1.105,1)" font-size="17.7" text-anchor="middle" fill="#000" stroke="#000" stroke-width="0.25">12</text>
<text transform="translate(1059.2,377.0) scale(1.105,1)" font-size="17.7" text-anchor="middle" fill="#000" stroke="#000" stroke-width="0.25">18</text>
<text transform="translate(122.5,365.6) scale(1.105,1)" font-size="17.7" text-anchor="end" fill="#000" stroke="#000" stroke-width="0.25">0</text>
<text transform="translate(122.5,328.2) scale(1.105,1)" font-size="17.7" text-anchor="end" fill="#000" stroke="#000" stroke-width="0.25">1</text>
<text transform="translate(122.5,290.8) scale(1.105,1)" font-size="17.7" text-anchor="end" fill="#000" stroke="#000" stroke-width="0.25">2</text>
<text transform="translate(122.5,253.4) scale(1.105,1)" font-size="17.7" text-anchor="end" fill="#000" stroke="#000" stroke-width="0.25">3</text>
<text transform="translate(122.5,216.0) scale(1.105,1)" font-size="17.7" text-anchor="end" fill="#000" stroke="#000" stroke-width="0.25">4</text>
<text transform="translate(122.5,178.6) scale(1.105,1)" font-size="17.7" text-anchor="end" fill="#000" stroke="#000" stroke-width="0.25">5</text>
<text transform="translate(46.3,365.6) scale(1.105,1)" font-size="17.7" text-anchor="start" fill="#fa0000" stroke="#fa0000" stroke-width="0.25">6</text>
<text transform="translate(46.3,328.2) scale(1.105,1)" font-size="17.7" text-anchor="start" fill="#fa0000" stroke="#fa0000" stroke-width="0.25">10</text>
<text transform="translate(46.3,290.8) scale(1.105,1)" font-size="17.7" text-anchor="start" fill="#fa0000" stroke="#fa0000" stroke-width="0.25">14</text>
<text transform="translate(46.3,253.4) scale(1.105,1)" font-size="17.7" text-anchor="start" fill="#fa0000" stroke="#fa0000" stroke-width="0.25">18</text>
<text transform="translate(46.3,216.0) scale(1.105,1)" font-size="17.7" text-anchor="start" fill="#fa0000" stroke="#fa0000" stroke-width="0.25">22</text>
<text transform="translate(46.3,178.6) scale(1.105,1)" font-size="17.7" text-anchor="start" fill="#fa0000" stroke="#fa0000" stroke-width="0.25">26</text>
<text transform="translate(1098.8,365.6) scale(1.130,1)" font-size="17.7" text-anchor="start" fill="#000" stroke="#000" stroke-width="0.25">0</text>
<text transform="translate(1098.8,328.2) scale(1.130,1)" font-size="17.7" text-anchor="start" fill="#000" stroke="#000" stroke-width="0.25">1.5</text>
<text transform="translate(1098.8,290.8) scale(1.130,1)" font-size="17.7" text-anchor="start" fill="#000" stroke="#000" stroke-width="0.25">3.5</text>
<text transform="translate(1098.8,253.4) scale(1.130,1)" font-size="17.7" text-anchor="start" fill="#000" stroke="#000" stroke-width="0.25">6.0</text>
<text transform="translate(1098.8,216.0) scale(1.130,1)" font-size="17.7" text-anchor="start" fill="#000" stroke="#000" stroke-width="0.25">9.0</text>
<text transform="translate(1098.8,178.6) scale(1.130,1)" font-size="17.7" text-anchor="start" fill="#000" stroke="#000" stroke-width="0.25">14</text>
<text transform="translate(35.4,266.5) rotate(-90) scale(1.090,1)" font-size="19.8" text-anchor="middle" fill="#fa0000" stroke="#fa0000" stroke-width="0.25">Temperatura (°C)</text>
<text transform="translate(99.5,263.0) rotate(-90) scale(1.090,1)" font-size="19.8" text-anchor="middle" fill="#000" stroke="#000" stroke-width="0.25">Padavine (mm/h)</text>
<text transform="translate(1144.0,255.8) rotate(-90) scale(1.080,1)" font-size="19.8" text-anchor="middle" fill="#000" stroke="#000" stroke-width="0.25">Višina oblakov (km)</text>
<text transform="translate(154.8,331.4) scale(1.130,1)" font-size="17.7" text-anchor="middle" fill="#000" stroke="#000" stroke-width="0.25">11</text>
<text transform="translate(213.0,265.4) scale(1.130,1)" font-size="17.7" text-anchor="middle" fill="#000" stroke="#000" stroke-width="0.25">18</text>
<text transform="translate(299.0,309.4) scale(1.130,1)" font-size="17.7" text-anchor="middle" fill="#000" stroke="#000" stroke-width="0.25">13</text>
<text transform="translate(351.6,260.0) scale(1.130,1)" font-size="17.7" text-anchor="middle" fill="#000" stroke="#000" stroke-width="0.25">19</text>
<text transform="translate(437.0,309.4) scale(1.130,1)" font-size="17.7" text-anchor="middle" fill="#000" stroke="#000" stroke-width="0.25">14</text>
<text transform="translate(489.0,256.9) scale(1.130,1)" font-size="17.7" text-anchor="middle" fill="#000" stroke="#000" stroke-width="0.25">19</text>
<text transform="translate(576.0,302.4) scale(1.130,1)" font-size="17.7" text-anchor="middle" fill="#000" stroke="#000" stroke-width="0.25">14</text>
<text transform="translate(621.0,242.9) scale(1.130,1)" font-size="17.7" text-anchor="middle" fill="#000" stroke="#000" stroke-width="0.25">21</text>
<text transform="translate(714.0,290.9) scale(1.130,1)" font-size="17.7" text-anchor="middle" fill="#000" stroke="#000" stroke-width="0.25">16</text>
<text transform="translate(765.4,237.9) scale(1.130,1)" font-size="17.7" text-anchor="middle" fill="#000" stroke="#000" stroke-width="0.25">21</text>
<text transform="translate(852.0,291.9) scale(1.130,1)" font-size="17.7" text-anchor="middle" fill="#000" stroke="#000" stroke-width="0.25">15</text>
<text transform="translate(903.5,244.9) scale(1.130,1)" font-size="17.7" text-anchor="middle" fill="#000" stroke="#000" stroke-width="0.25">20</text>
<text transform="translate(990.0,309.9) scale(1.130,1)" font-size="17.7" text-anchor="middle" fill="#000" stroke="#000" stroke-width="0.25">14</text>
<text transform="translate(1042.6,249.0) scale(1.130,1)" font-size="17.7" text-anchor="middle" fill="#000" stroke="#000" stroke-width="0.25">20</text>
<text transform="translate(1095.0,294.9) scale(1.130,1)" font-size="17.7" text-anchor="middle" fill="#000" stroke="#000" stroke-width="0.25">15</text>
<rect x="126.8" y="390" width="32.2" height="10.8" fill="#0050fa"/>
<rect x="165" y="385.8" width="105" height="20" fill="#ffffff"/>
<text x="168.3" y="401.7" font-size="19.7" fill="#000">Dež</text>
<rect x="277.8" y="390" width="32" height="11" fill="#14d8c8"/>
<rect x="309.8" y="385.8" width="110.4" height="20" fill="#ffffff"/>
<text x="318.0" y="401.7" font-size="19.7" fill="#000">Možnost ploh</text>
<text x="498.8" y="401.7" font-size="15.85" fill="#0000ff">© vreme.us &amp; vreme.pro</text>
<rect x="759" y="385.7" width="181" height="20" fill="#ffffff"/>
<text x="758.6" y="401.7" font-size="19.55" fill="#000">Gostota oblakov (%)</text>
<rect x="949.00" y="385" width="29.46" height="13.3" fill="#d2d2d2"/>
<rect x="978.16" y="385" width="29.46" height="13.3" fill="#b1b1b1"/>
<rect x="1007.32" y="385" width="29.46" height="13.3" fill="#929292"/>
<rect x="1036.48" y="385" width="29.46" height="13.3" fill="#747474"/>
<rect x="1065.64" y="385" width="29.46" height="13.3" fill="#565656"/>
<rect x="949.5" y="385.5" width="145" height="13" fill="none" stroke="#2a2a2a" stroke-width="1"/>
<text transform="translate(949.5,415.0) scale(1.080,1)" font-size="15.9" text-anchor="middle" fill="#000" stroke="#000" stroke-width="0.25">10</text>
<text transform="translate(978.7,415.0) scale(1.080,1)" font-size="15.9" text-anchor="middle" fill="#000" stroke="#000" stroke-width="0.25">25</text>
<text transform="translate(1007.8,415.0) scale(1.080,1)" font-size="15.9" text-anchor="middle" fill="#000" stroke="#000" stroke-width="0.25">50</text>
<text transform="translate(1037.0,415.0) scale(1.080,1)" font-size="15.9" text-anchor="middle" fill="#000" stroke="#000" stroke-width="0.25">75</text>
<text transform="translate(1066.1,415.0) scale(1.080,1)" font-size="15.9" text-anchor="middle" fill="#000" stroke="#000" stroke-width="0.25">90</text>
<text transform="translate(1095.3,415.0) scale(1.080,1)" font-size="15.9" text-anchor="middle" fill="#000" stroke="#000" stroke-width="0.25">100</text>
</svg>
</body></html>
